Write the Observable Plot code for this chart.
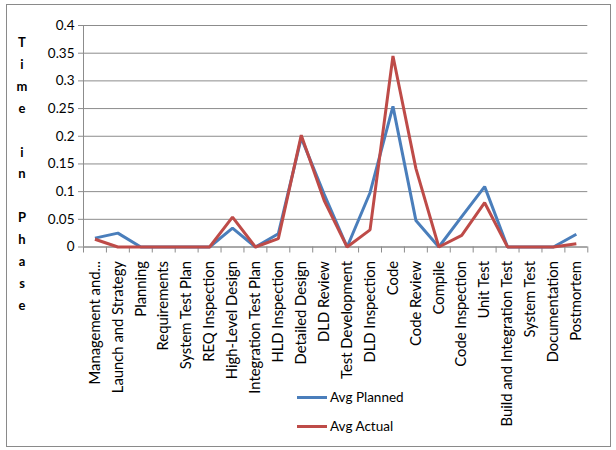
<!DOCTYPE html>
<html>
<head>
<meta charset="utf-8">
<script src="https://cdn.jsdelivr.net/npm/d3@7"></script>
<script src="https://cdn.jsdelivr.net/npm/@observablehq/plot@0.6"></script>
<style>
  body { margin: 0; background: #fff; }
  #wrap { position: relative; width: 616px; height: 450px; font-family: Lato, "Open Sans", sans-serif; }
  #frame { position: absolute; left: 6px; top: 4px; width: 605px; height: 443px; border: 1px solid #8a8a8a; box-sizing: border-box; pointer-events: none; }
  #ylab { position: absolute; left: 14px; top: 32px; width: 16px; text-align: center; font-weight: bold; font-size: 13px; line-height: 21.9px; color: #000; }
  .leg { position: absolute; left: 297px; font-size: 13.5px; color: #000; display: flex; align-items: center; }
  .leg span.sw { display: inline-block; width: 30px; height: 3px; margin-right: 3px; }
</style>
</head>
<body>
<div id="wrap"></div>
<script>
const categories = ["Management and...", "Launch and Strategy", "Planning", "Requirements", "System Test Plan",
  "REQ Inspection", "High-Level Design", "Integration Test Plan", "HLD Inspection", "Detailed Design",
  "DLD Review", "Test Development", "DLD Inspection", "Code", "Code Review", "Compile", "Code Inspection",
  "Unit Test", "Build and Integration Test", "System Test", "Documentation", "Postmortem"];
const avgPlanned = [0.016, 0.025, 0, 0, 0, 0, 0.034, 0, 0.024, 0.197, 0.095, 0, 0.098, 0.254, 0.048, 0, 0.055, 0.109, 0, 0, 0, 0.023];
const avgActual  = [0.014, 0, 0, 0, 0, 0, 0.054, 0, 0.015, 0.202, 0.084, 0, 0.031, 0.345, 0.142, 0, 0.021, 0.080, 0, 0, 0, 0.006];
const yTicks = [0, 0.05, 0.1, 0.15, 0.2, 0.25, 0.3, 0.35, 0.4];
const seriesNames = ["Avg Planned", "Avg Actual"];
const seriesColors = ["#4a7ebb", "#be4b48"];

const rows = [];
categories.forEach((c, i) => {
  rows.push({i, series: seriesNames[0], v: avgPlanned[i]});
});
categories.forEach((c, i) => {
  rows.push({i, series: seriesNames[1], v: avgActual[i]});
});

const chart = Plot.plot({
  width: 616,
  height: 450,
  marginLeft: 83,
  marginRight: 28.7,
  marginTop: 25,
  marginBottom: 203.5,
  style: {fontFamily: "Lato, 'Open Sans', sans-serif", fontSize: "13px", color: "#000", background: "transparent"},
  x: {type: "linear", domain: [0, categories.length]},
  y: {domain: [0, 0.4]},
  color: {domain: seriesNames, range: seriesColors},
  marks: [
    Plot.gridY(yTicks, {stroke: "#8c8c8c", strokeOpacity: 1, strokeWidth: 1}),
    Plot.axisY(yTicks, {tickSize: 5, tickPadding: 4, stroke: "#8c8c8c", tickFormat: d => String(d), fill: "#000", fontSize: 13.5, label: null}),
    Plot.ruleX([0], {stroke: "#8c8c8c"}),
    Plot.ruleY([0], {stroke: "#8c8c8c"}),
    Plot.axisX(d3.range(categories.length + 1), {tickSize: 6, tickFormat: () => "", stroke: "#8c8c8c", label: null}),
    Plot.axisX(categories.map((c, i) => i + 0.5), {tickSize: 0, tickPadding: 14, tickRotate: -90,
      tickFormat: d => categories[Math.floor(d)], fill: "#000", fontSize: 14.8, label: null}),
    Plot.line(rows, {x: d => d.i + 0.5, y: "v", z: "series", stroke: "series", strokeWidth: 3, strokeLinejoin: "miter", strokeLinecap: "butt"})
  ]
});

const wrap = document.getElementById("wrap");
wrap.appendChild(chart);

const ylab = document.createElement("div");
ylab.id = "ylab";
ylab.innerHTML = "Time in Phase".split("").map(ch => ch === " " ? "&nbsp;" : ch).join("<br>");
wrap.appendChild(ylab);

seriesNames.forEach((name, k) => {
  const d = document.createElement("div");
  d.className = "leg";
  d.style.top = (389 + k * 29) + "px";
  d.innerHTML = `<span class="sw" style="background:${seriesColors[k]}"></span>${name}`;
  wrap.appendChild(d);
});

const fr = document.createElement("div");
fr.id = "frame";
wrap.appendChild(fr);
chart.style.position = "absolute";
chart.style.left = "0";
chart.style.top = "0";
</script>
</body>
</html>
